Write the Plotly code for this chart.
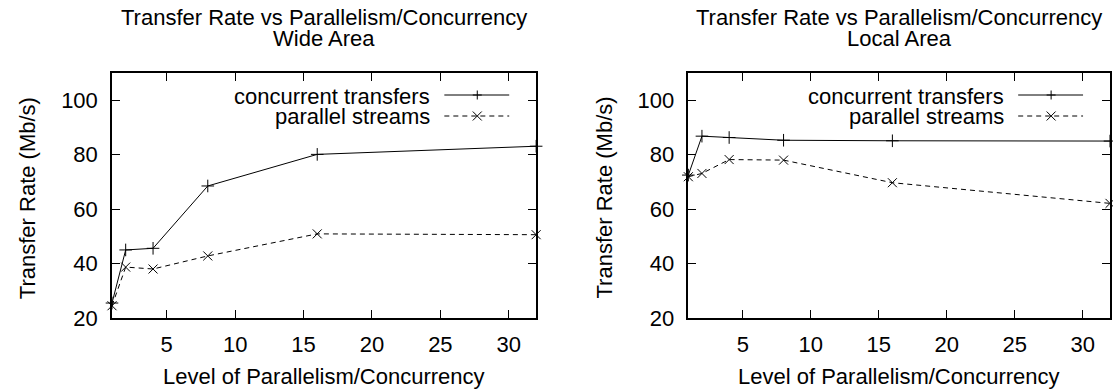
import plotly.graph_objects as go

# ---- data ----
x_levels = [1, 2, 4, 8, 16, 32]
wide_concurrent = [25.5, 45.0, 45.6, 68.5, 80.1, 83.1]
wide_parallel = [24.5, 38.7, 38.0, 42.8, 50.9, 50.6]
local_concurrent = [72.5, 86.8, 86.3, 85.3, 85.1, 85.0]
local_parallel = [71.9, 73.1, 78.2, 78.0, 69.7, 62.1]

series_names = ["concurrent transfers", "parallel streams"]
panel_titles = ["Wide Area", "Local Area"]
main_title = "Transfer Rate vs Parallelism/Concurrency"
x_title = "Level of Parallelism/Concurrency"
y_title = "Transfer Rate (Mb/s)"
x_ticks = [5, 10, 15, 20, 25, 30]
y_ticks = [20, 40, 60, 80, 100]

# ---- layout geometry ----
W, H = 1113, 391
L, R, T, B = 112, 1, 73, 73
PW, PH = W - L - R, H - T - B
FONT = "Liberation Sans, Arial, Helvetica, sans-serif"
FS = 22


def px(x):
    return (x - L) / PW


def py(y):
    return 1 - (y - T) / PH


dom1 = [0, px(537)]
dom2 = [px(689.5), 1.0]

fig = go.Figure()

panels = [
    (wide_concurrent, wide_parallel, "x", "y"),
    (local_concurrent, local_parallel, "x2", "y2"),
]
for conc, par, xa, ya in panels:
    fig.add_trace(go.Scatter(
        x=x_levels, y=conc, xaxis=xa, yaxis=ya, mode="lines+markers",
        line=dict(color="black", width=1),
        marker=dict(symbol="cross-thin-open", size=9, color="black",
                    line=dict(color="black", width=1)),
        cliponaxis=False, showlegend=False, name=series_names[0]))
    fig.add_trace(go.Scatter(
        x=x_levels, y=par, xaxis=xa, yaxis=ya, mode="lines+markers",
        line=dict(color="black", width=1, dash="5px,4px"),
        marker=dict(symbol="x-thin-open", size=9, color="black",
                    line=dict(color="black", width=1)),
        cliponaxis=False, showlegend=False, name=series_names[1]))

axis_common = dict(
    showline=True, linecolor="black", linewidth=1.5, mirror="ticks",
    ticks="inside", ticklen=8, tickwidth=1, tickcolor="black",
    showgrid=False, zeroline=False,
    tickfont=dict(family=FONT, size=FS, color="black"),
)
xaxis_common = dict(axis_common, range=[1, 32], tickvals=x_ticks,
                    ticklabelstandoff=6)
yaxis_common = dict(axis_common, range=[20, 110], tickvals=y_ticks,
                    ticklabelstandoff=8)

fig.update_layout(
    width=W, height=H,
    margin=dict(l=L, r=R, t=T, b=B, pad=0),
    paper_bgcolor="white", plot_bgcolor="white",
    showlegend=False,
    xaxis=dict(xaxis_common, domain=dom1, anchor="y"),
    yaxis=dict(yaxis_common, domain=[0, 1], anchor="x"),
    xaxis2=dict(xaxis_common, domain=dom2, anchor="y2"),
    yaxis2=dict(yaxis_common, domain=[0, 1], anchor="x2"),
)

annotations = []
shapes = []
frames = [(112, 537), (689.5, 1112)]
for i, (fl, fr) in enumerate(frames):
    cx = (fl + fr) / 2
    annotations.append(dict(x=px(cx), y=py(18), xref="paper", yref="paper",
                            text=main_title, showarrow=False,
                            xanchor="center", yanchor="middle",
                            font=dict(family=FONT, size=FS, color="black")))
    annotations.append(dict(x=px(cx), y=py(38), xref="paper", yref="paper",
                            text=panel_titles[i], showarrow=False,
                            xanchor="center", yanchor="middle",
                            font=dict(family=FONT, size=FS, color="black")))
    annotations.append(dict(x=px(cx), y=py(376), xref="paper", yref="paper",
                            text=x_title, showarrow=False,
                            xanchor="center", yanchor="middle",
                            font=dict(family=FONT, size=FS, color="black")))
    annotations.append(dict(x=px(fl - 85), y=py(198), xref="paper", yref="paper",
                            text=y_title, showarrow=False, textangle=-90,
                            xanchor="center", yanchor="middle",
                            font=dict(family=FONT, size=FS, color="black")))
    # legend (gnuplot style: text left, key right)
    for j, (name, dash) in enumerate(zip(series_names, ["solid", "5px,4px"])):
        ry = 95 + 21 * j
        annotations.append(dict(x=px(fr - 104), y=py(ry + 1), xref="paper",
                                yref="paper", text=name, showarrow=False,
                                xanchor="right", yanchor="middle",
                                font=dict(family=FONT, size=FS, color="black")))
        shapes.append(dict(type="line", xref="paper", yref="paper",
                           x0=px(fr - 92), x1=px(fr - 27), y0=py(ry), y1=py(ry),
                           line=dict(color="black", width=1, dash=dash)))
        mx, h = fr - 59, 4.5
        if j == 0:
            path = (f"M {px(mx - h)},{py(ry)} L {px(mx + h)},{py(ry)} "
                    f"M {px(mx)},{py(ry - h)} L {px(mx)},{py(ry + h)}")
        else:
            path = (f"M {px(mx - h)},{py(ry - h)} L {px(mx + h)},{py(ry + h)} "
                    f"M {px(mx - h)},{py(ry + h)} L {px(mx + h)},{py(ry - h)}")
        shapes.append(dict(type="path", xref="paper", yref="paper", path=path,
                           line=dict(color="black", width=1)))

fig.update_layout(annotations=annotations, shapes=shapes)
fig.write_html("out.html")
